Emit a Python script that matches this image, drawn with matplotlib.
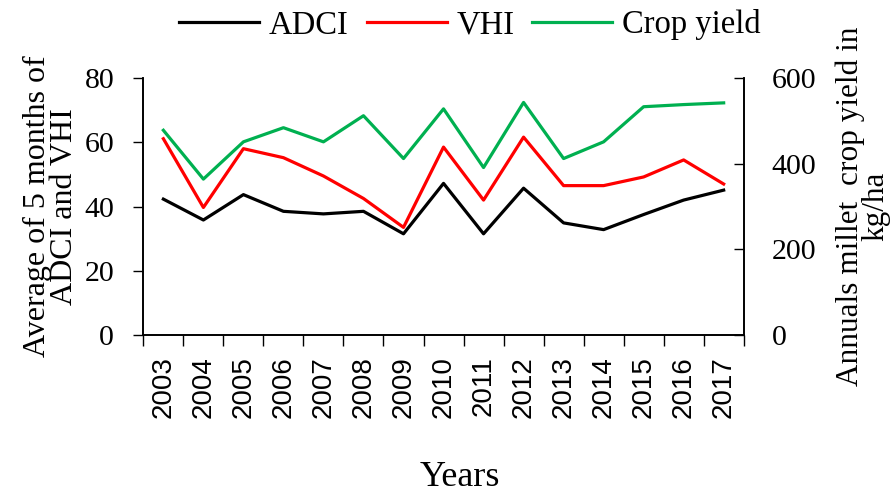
import matplotlib
matplotlib.use('Agg')
import matplotlib.pyplot as plt
import numpy as np

""" DATA """
years = ['2003', '2004', '2005', '2006', '2007', '2008', '2009', '2010',
         '2011', '2012', '2013', '2014', '2015', '2016', '2017']
adci = [42.3, 35.8, 43.7, 38.5, 37.7, 38.5, 31.5, 47.2, 31.5, 45.7, 34.9, 32.8, 37.5, 42.0, 45.1]
vhi = [61.1, 39.7, 58.0, 55.2, 49.5, 42.5, 33.5, 58.5, 42.0, 61.6, 46.5, 46.5, 49.2, 54.5, 47.0]
crop_yield = [478, 364, 451, 484, 451, 512, 412, 528, 391, 543, 412, 451, 533, 538, 542]

SERIF = 'Liberation Serif'
SANS = 'Liberation Sans'
plt.rcParams['font.family'] = SERIF

fig = plt.figure(figsize=(8.96, 4.97), dpi=100)
ax = fig.add_axes([0.160, 0.326, 0.670, 0.517])
ax2 = ax.twinx()

x = np.arange(len(years))
l1, = ax.plot(x, adci, color='black', lw=2.3, label='ADCI')
l2, = ax.plot(x, vhi, color='#ff0000', lw=2.3, label='VHI')
l3, = ax2.plot(x, crop_yield, color='#00b050', lw=2.3, label='Crop yield')

ax.set_xlim(-0.5, len(years) - 0.5)
ax.set_ylim(0, 80)
ax2.set_ylim(0, 600)
ax.set_yticks([0, 20, 40, 60, 80])
ax2.set_yticks([0, 200, 400, 600])

# ticks on category boundaries, labels in category centres
ax.set_xticks(np.arange(-0.5, len(years)), minor=False)
ax.set_xticklabels([])
ax.set_xticks(x, minor=True)
ax.set_xticklabels(years, minor=True, rotation=90, family=SANS, fontsize=20)
ax.tick_params(axis='x', which='major', direction='out', length=8, width=1)
ax.tick_params(axis='x', which='minor', length=0, pad=15)
ax.tick_params(axis='y', direction='out', length=7, width=1, labelsize=21.5, pad=14)
ax2.tick_params(axis='y', direction='in', length=7, width=1, labelsize=21.5, pad=20)

for a in (ax, ax2):
    a.spines['top'].set_visible(False)
    for s in ('left', 'right', 'bottom'):
        a.spines[s].set_linewidth(1.2)

ax.set_ylabel('Average of 5 months of\nADCI and VHI', fontsize=23, labelpad=4, linespacing=0.9)
ax2.set_ylabel('Annuals millet  crop yield in\nkg/ha', fontsize=22.5, labelpad=14, linespacing=0.85)
fig.text(460 / 896, 1 - 478 / 497, 'Years', fontsize=26, ha='center', va='center')

fig.legend(handles=[l1, l2, l3], loc='center', bbox_to_anchor=(470 / 896, 1 - 25 / 497),
           ncol=3, frameon=False, fontsize=23.5, handlelength=2.45, handletextpad=0.3,
           columnspacing=0.55, borderpad=0)

fig.savefig('out.png', dpi=100)
